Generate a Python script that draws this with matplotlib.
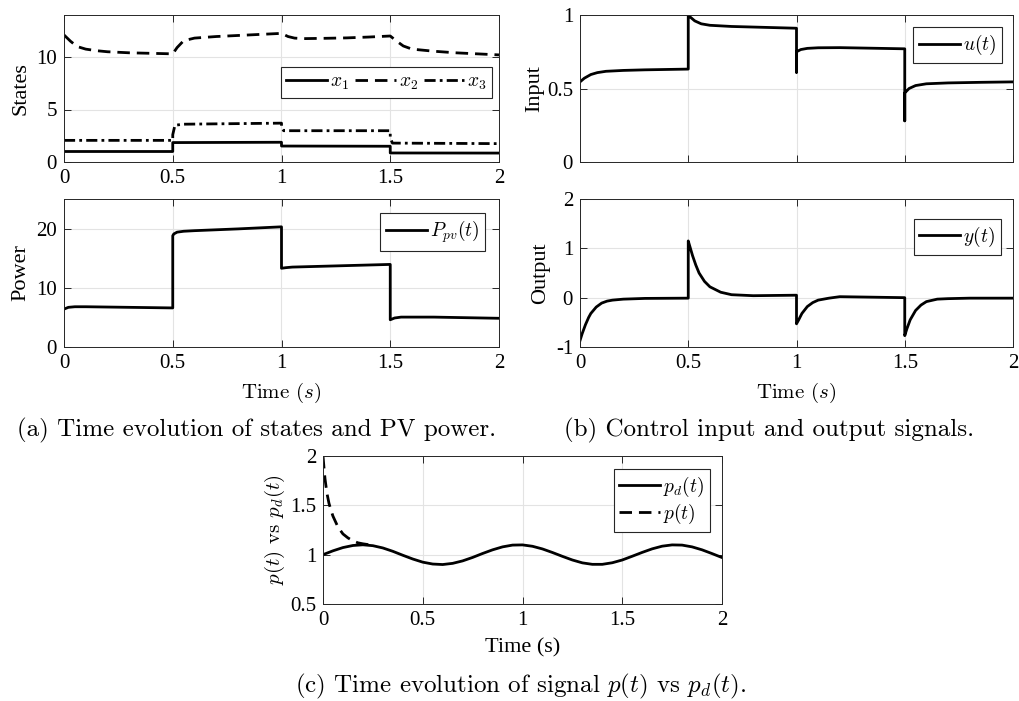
import matplotlib
matplotlib.use('Agg')
import matplotlib.pyplot as plt
from matplotlib.ticker import FuncFormatter

plt.rcParams['font.family'] = ['Liberation Serif', 'DejaVu Serif']
plt.rcParams['mathtext.fontset'] = 'cm'
plt.rcParams['font.size'] = 15

# (a) states
t_x1 = [0, 0.5, 0.5, 1.0, 1.0, 1.5, 1.5, 2.0]
x1 = [1.0, 1.0, 1.85, 1.88, 1.52, 1.5, 0.86, 0.85]

t_x2 = [0, 0.03, 0.06, 0.1, 0.15, 0.2, 0.3, 0.4, 0.5, 0.52, 0.55, 0.6, 0.7, 0.8, 0.9,
        1.0, 1.03, 1.06, 1.1, 1.2, 1.3, 1.4, 1.5, 1.53, 1.56, 1.6, 1.7, 1.8, 1.9, 2.0]
x2 = [12.1, 11.5, 11.0, 10.75, 10.6, 10.5, 10.4, 10.35, 10.3, 10.9, 11.55, 11.8, 11.95, 12.05, 12.15,
      12.25, 11.95, 11.8, 11.75, 11.78, 11.82, 11.9, 12.0, 11.5, 11.05, 10.75, 10.55, 10.4, 10.3, 10.2]

t_x3 = [0, 0.5, 0.5, 0.51, 0.55, 1.0, 1.0, 1.01, 1.5, 1.5, 1.51, 2.0]
x3 = [2.06, 2.06, 2.6, 3.5, 3.6, 3.7, 3.3, 2.98, 2.98, 2.3, 1.8, 1.75]

# (a) PV power
t_pv = [0, 0.02, 0.05, 0.1, 0.2, 0.3, 0.4, 0.5, 0.5, 0.505, 0.52, 0.55, 0.6, 0.8, 1.0,
        1.0, 1.02, 1.05, 1.2, 1.4, 1.5, 1.5, 1.52, 1.55, 1.7, 1.85, 2.0]
p_pv = [6.4, 6.7, 6.8, 6.8, 6.75, 6.7, 6.65, 6.6, 18.8, 19.1, 19.4, 19.55, 19.65, 19.95, 20.3,
        13.3, 13.4, 13.5, 13.65, 13.85, 13.95, 4.6, 4.9, 5.05, 5.05, 4.95, 4.85]

# (b) input
t_u = [0, 0.02, 0.05, 0.08, 0.12, 0.2, 0.3, 0.5, 0.5, 0.51, 0.53, 0.56, 0.6, 0.7, 0.8,
       1.0, 1.0, 1.0, 1.02, 1.05, 1.1, 1.2, 1.35, 1.5, 1.5, 1.5, 1.52, 1.55, 1.6, 1.7, 1.85, 2.0]
u = [0.545, 0.57, 0.595, 0.608, 0.617, 0.623, 0.627, 0.632, 1.0, 0.985, 0.96, 0.94, 0.93, 0.922, 0.918,
     0.91, 0.61, 0.75, 0.765, 0.773, 0.777, 0.778, 0.774, 0.77, 0.28, 0.47, 0.5, 0.52, 0.532, 0.538, 0.542, 0.545]

# (b) output
t_y = [0, 0.01, 0.025, 0.04, 0.05, 0.075, 0.1, 0.125, 0.15, 0.2, 0.3, 0.5,
       0.5, 0.51, 0.52, 0.535, 0.55, 0.575, 0.6, 0.65, 0.7, 0.8, 1.0,
       1.0, 1.01, 1.025, 1.05, 1.075, 1.1, 1.15, 1.2, 1.5,
       1.5, 1.51, 1.525, 1.55, 1.575, 1.6, 1.65, 1.7, 1.8, 2.0]
y = [-0.87, -0.73, -0.55, -0.4, -0.32, -0.19, -0.11, -0.07, -0.05, -0.03, -0.015, -0.01,
     1.15, 1.0, 0.85, 0.66, 0.5, 0.33, 0.22, 0.11, 0.06, 0.04, 0.05,
     -0.53, -0.45, -0.32, -0.18, -0.1, -0.05, -0.01, 0.02, 0.0,
     -0.77, -0.63, -0.45, -0.26, -0.15, -0.08, -0.03, -0.02, -0.01, -0.01]

# (c) desired vs actual signal
t_pd = [0, 0.05, 0.1, 0.15, 0.2, 0.25, 0.3, 0.35, 0.4, 0.45, 0.5, 0.55, 0.6, 0.65, 0.7,
        0.75, 0.8, 0.85, 0.9, 0.95, 1.0, 1.05, 1.1, 1.15, 1.2, 1.25, 1.3, 1.35, 1.4,
        1.45, 1.5, 1.55, 1.6, 1.65, 1.7, 1.75, 1.8, 1.85, 1.9, 1.95, 2.0]
p_d = [1.000, 1.039, 1.072, 1.093, 1.100, 1.091, 1.068, 1.034, 0.994, 0.956, 0.924, 0.905,
       0.900, 0.912, 0.937, 0.972, 1.012, 1.049, 1.079, 1.097, 1.099, 1.085, 1.058, 1.022,
       0.983, 0.946, 0.917, 0.902, 0.902, 0.918, 0.946, 0.984, 1.023, 1.059, 1.086, 1.099,
       1.097, 1.079, 1.049, 1.011, 0.971]
t_p = [0, 0.005, 0.01, 0.02, 0.03, 0.04, 0.05, 0.075, 0.1, 0.125, 0.15, 0.175, 0.2, 0.25]
p = [2.0, 1.88, 1.77, 1.62, 1.52, 1.45, 1.39, 1.28, 1.21, 1.17, 1.14, 1.12, 1.11, 1.095]

W, H = 1019, 701
LW = 2.0
CM = 'cmr10'


def px_axes(fig, left, right, top, bottom):
    return fig.add_axes([left / W, 1 - bottom / H, (right - left) / W, (bottom - top) / H])


def style(ax, ylim, yticks, xlabels=True):
    ax.set_xlim(0, 2)
    ax.set_ylim(*ylim)
    ax.set_xticks([0, 0.5, 1, 1.5, 2])
    ax.set_yticks(yticks)
    fmt = FuncFormatter(lambda v, pos: '%g' % v)
    ax.xaxis.set_major_formatter(fmt)
    ax.yaxis.set_major_formatter(fmt)
    if not xlabels:
        ax.tick_params(labelbottom=False)
    ax.tick_params(direction='in', top=True, right=True, length=5, width=0.7,
                   color='#262626', labelsize=15, pad=5)
    ax.grid(True, color='#e3e3e3', linewidth=0.8)
    ax.set_axisbelow(True)
    for s in ax.spines.values():
        s.set_color('#262626')
        s.set_linewidth(0.7)


def legend(ax, **kw):
    leg = ax.legend(fontsize=14, frameon=True, fancybox=False, framealpha=1,
                    edgecolor='#262626', handlelength=2.1, handletextpad=0.15,
                    borderpad=0.3, labelspacing=0.15, borderaxespad=0, **kw)
    leg.get_frame().set_linewidth(0.8)
    return leg


fig = plt.figure(figsize=(W / 100, H / 100), dpi=100)

ax1 = px_axes(fig, 64, 499, 15, 162)
ax1.plot(t_x1, x1, 'k-', lw=LW, label='$x_1$')
ax1.plot(t_x2, x2, 'k', lw=LW, dashes=(4.5, 2.5), label='$x_2$')
ax1.plot(t_x3, x3, 'k', lw=LW, dashes=(4, 1.5, 1, 1.5), label='$x_3$')
style(ax1, (0, 14), [0, 5, 10])
ax1.set_ylabel('States', labelpad=4, fontsize=16)
legend(ax1, ncol=3, loc='center right', bbox_to_anchor=(0.985, 0.54), columnspacing=0.3)

ax2 = px_axes(fig, 580, 1013, 15, 162)
ax2.plot(t_u, u, 'k-', lw=LW, label='$u(t)$')
style(ax2, (0, 1), [0, 0.5, 1], xlabels=False)
ax2.set_ylabel('Input', labelpad=2, fontsize=16)
legend(ax2, loc='upper right', bbox_to_anchor=(0.975, 0.915))

ax3 = px_axes(fig, 64, 499, 199, 347)
ax3.plot(t_pv, p_pv, 'k-', lw=LW, label='$P_{pv}(t)$')
style(ax3, (0, 25), [0, 10, 20])
ax3.set_ylabel('Power', labelpad=4, fontsize=16)
ax3.set_xlabel('Time $(s)$', labelpad=6, family=CM, fontsize=15)
legend(ax3, loc='upper right', bbox_to_anchor=(0.968, 0.905))

ax4 = px_axes(fig, 580, 1013, 199, 347)
ax4.plot(t_y, y, 'k-', lw=LW, label='$y(t)$')
style(ax4, (-1, 2), [-1, 0, 1, 2])
ax4.set_ylabel('Output', labelpad=4, fontsize=16)
ax4.set_xlabel('Time $(s)$', labelpad=6, family=CM, fontsize=15)
legend(ax4, loc='upper right', bbox_to_anchor=(0.972, 0.865))

ax5 = px_axes(fig, 323, 722, 456, 604)
ax5.plot(t_pd, p_d, 'k-', lw=LW, label='$p_d(t)$')
ax5.plot(t_p, p, 'k', lw=LW, dashes=(4.5, 2.5), label='$p(t)$')
style(ax5, (0.5, 2), [0.5, 1, 1.5, 2])
ax5.set_ylabel('$p(t)$ vs $p_d(t)$', family=CM, labelpad=2)
ax5.set_xlabel('Time (s)', labelpad=6, fontsize=16)
legend(ax5, loc='upper right', bbox_to_anchor=(0.97, 0.91))

fig.text(257 / W, 1 - 430 / H, '(a) Time evolution of states and PV power.',
         ha='center', va='center', fontsize=18, family=CM)
fig.text(769 / W, 1 - 430 / H, '(b) Control input and output signals.',
         ha='center', va='center', fontsize=18, family=CM)
fig.text(521 / W, 1 - 686 / H, '(c) Time evolution of signal $p(t)$ vs $p_d(t)$.',
         ha='center', va='center', fontsize=18, family=CM)

fig.savefig('out.png', dpi=100)
